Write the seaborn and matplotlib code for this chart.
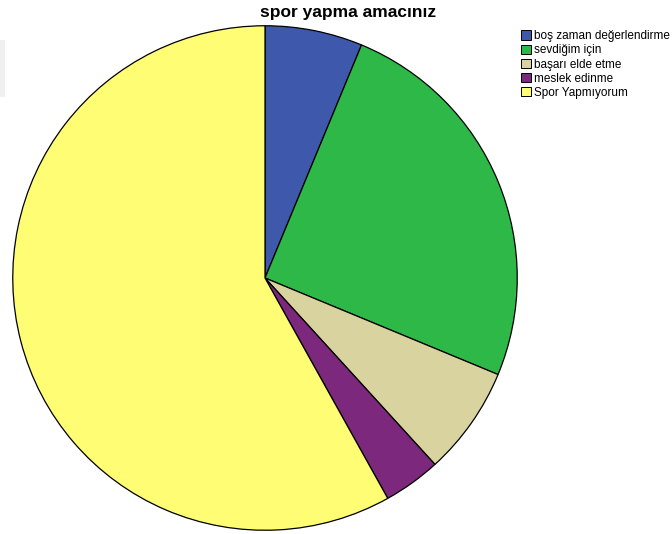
import matplotlib
matplotlib.use("Agg")
import matplotlib.pyplot as plt
from matplotlib.patches import Patch, Rectangle
import seaborn as sns

# Purpose of doing sport (counts per answer)
categories = ["boş zaman değerlendirme", "sevdiğim için", "başarı elde etme",
              "meslek edinme", "Spor Yapmıyorum"]
counts = [17, 68, 19, 10, 158]
colors = ["#3E58AC", "#2EB848", "#D8D39F", "#7C287D", "#FFFD73"]
title = "spor yapma amacınız"

sns.set_theme(style="white")
plt.rcParams["font.family"] = ["Liberation Sans", "DejaVu Sans"]
palette = sns.color_palette(colors)

fig = plt.figure(figsize=(6.72, 5.34), dpi=100)
fig.patch.set_facecolor("white")

# faint grey panel edge at the left border
fig.add_artist(Rectangle((0, 1 - 97 / 534), 5 / 672, 57 / 534,
                         transform=fig.transFigure, facecolor="#f0f0f0",
                         edgecolor="none"))

ax = fig.add_axes([12 / 672, 3 / 534, 506 / 672, 506 / 534])
ax.pie(counts, colors=palette, startangle=90, counterclock=False,
       wedgeprops=dict(edgecolor="black", linewidth=0.9))
ax.set_xlim(-1.003, 1.003)
ax.set_ylim(-1.003, 1.003)
ax.set_aspect("equal")
ax.axis("off")

fig.text(348 / 672, 1 - 12 / 534, title, ha="center", va="center",
         fontsize=12.5, fontweight="bold", color="black")

handles = [Patch(facecolor=c, edgecolor="black", linewidth=0.7) for c in palette]
fig.legend(handles, categories, loc="upper left",
           bbox_to_anchor=(513 / 672, 1 - 22 / 534), frameon=False,
           fontsize=8.5, handlelength=0.85, handleheight=0.85,
           handletextpad=0.25, labelspacing=0.18, borderpad=0.2,
           labelcolor="black")

fig.savefig("out.png", dpi=100, facecolor="white")
